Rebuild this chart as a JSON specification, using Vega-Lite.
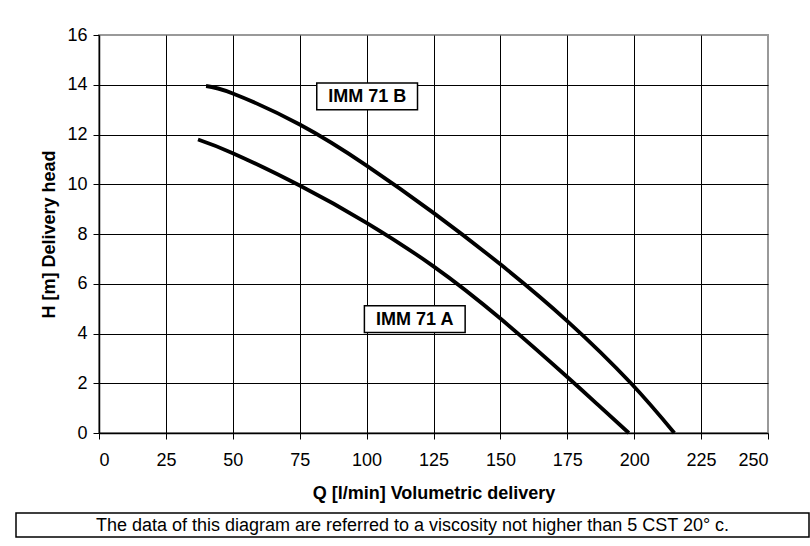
{
  "$schema": "https://vega.github.io/schema/vega-lite/v6.json",
  "background": "white",
  "padding": {"left": 15, "top": 25, "right": 0, "bottom": 0},
  "config": {"font": "Liberation Sans", "view": {"stroke": null}},
  "spacing": 9,
  "vconcat": [
    {
      "spacing": 0,
      "hconcat": [
        {
          "width": 23,
          "height": 1,
          "data": {"values": []},
          "mark": "point"
        },
        {
          "width": 669,
          "height": 398,
          "view": {"stroke": "#999999", "strokeWidth": 2},
          "layer": [
            {
              "data": {"values": [
                {"pump": "B", "q": 40, "h": 13.95},
                {"pump": "B", "q": 50, "h": 13.65},
                {"pump": "B", "q": 75, "h": 12.4},
                {"pump": "B", "q": 100, "h": 10.75},
                {"pump": "B", "q": 125, "h": 8.85},
                {"pump": "B", "q": 150, "h": 6.78},
                {"pump": "B", "q": 175, "h": 4.5},
                {"pump": "B", "q": 198.8, "h": 2.0},
                {"pump": "B", "q": 215, "h": 0},
                {"pump": "A", "q": 37, "h": 11.8},
                {"pump": "A", "q": 50, "h": 11.25},
                {"pump": "A", "q": 75, "h": 9.95},
                {"pump": "A", "q": 100, "h": 8.45},
                {"pump": "A", "q": 125, "h": 6.7},
                {"pump": "A", "q": 150, "h": 4.6},
                {"pump": "A", "q": 175, "h": 2.25},
                {"pump": "A", "q": 186.5, "h": 1.13},
                {"pump": "A", "q": 198, "h": 0}
              ]},
              "mark": {"type": "line", "color": "black", "strokeWidth": 3.8, "interpolate": "natural", "strokeCap": "butt"},
              "encoding": {
                "x": {
                  "field": "q", "type": "quantitative",
                  "scale": {"domain": [0, 250], "nice": false},
                  "axis": {
                    "title": "Q [l/min] Volumetric delivery",
                    "values": [0, 25, 50, 75, 100, 125, 150, 175, 200, 225, 250],
                    "grid": true,
                    "gridColor": {"condition": {"test": "datum.value === 250 || datum.value === 0", "value": "transparent"}, "value": "black"},
                    "gridWidth": 1,
                    "domainColor": "black", "domainWidth": 1.5,
                    "tickColor": "black", "tickSize": 6, "tickWidth": 1,
                    "labelColor": "black", "labelFontSize": 18, "labelPadding": 12,
                    "titleColor": "black", "titleFontSize": 18, "titleFontWeight": "bold", "titlePadding": 15
                  }
                },
                "y": {
                  "field": "h", "type": "quantitative",
                  "scale": {"domain": [0, 16], "nice": false},
                  "axis": {
                    "title": "H [m] Delivery head",
                    "values": [0, 2, 4, 6, 8, 10, 12, 14, 16],
                    "grid": true,
                    "gridColor": {"condition": {"test": "datum.value === 16 || datum.value === 0", "value": "transparent"}, "value": "black"},
                    "gridWidth": 1,
                    "domainColor": "black", "domainWidth": 1.5,
                    "tickColor": "black", "tickSize": 6, "tickWidth": 1,
                    "labelColor": "black", "labelFontSize": 18, "labelPadding": 6,
                    "titleColor": "black", "titleFontSize": 18, "titleFontWeight": "bold", "titlePadding": 8.5
                  }
                },
                "detail": {"field": "pump"}
              }
            },
            {
              "data": {"values": [
                {"label": "IMM 71 B", "q": 100.2, "h": 13.53},
                {"label": "IMM 71 A", "q": 118, "h": 4.58}
              ]},
              "mark": {"type": "point", "shape": "M-1,-0.265H1V0.265H-1Z", "size": 10150, "filled": true, "fill": "white", "stroke": "black", "strokeWidth": 1.5, "opacity": 1},
              "encoding": {
                "x": {"field": "q", "type": "quantitative"},
                "y": {"field": "h", "type": "quantitative"}
              }
            },
            {
              "data": {"values": [
                {"label": "IMM 71 B", "q": 100.2, "h": 13.53},
                {"label": "IMM 71 A", "q": 118, "h": 4.58}
              ]},
              "mark": {"type": "text", "fontSize": 18, "fontWeight": "bold", "color": "black", "baseline": "middle", "align": "center", "dy": 1},
              "encoding": {
                "x": {"field": "q", "type": "quantitative"},
                "y": {"field": "h", "type": "quantitative"},
                "text": {"field": "label"}
              }
            }
          ]
        }
      ]
    },
    {
      "width": 793,
      "height": 24,
      "view": {"stroke": "black", "strokeWidth": 1.5},
      "data": {"values": [{"note": "The data of this diagram are referred to a viscosity not higher than 5 CST 20° c."}]},
      "mark": {"type": "text", "fontSize": 18, "color": "black", "baseline": "middle", "dy": 1},
      "encoding": {"text": {"field": "note"}}
    }
  ]
}
